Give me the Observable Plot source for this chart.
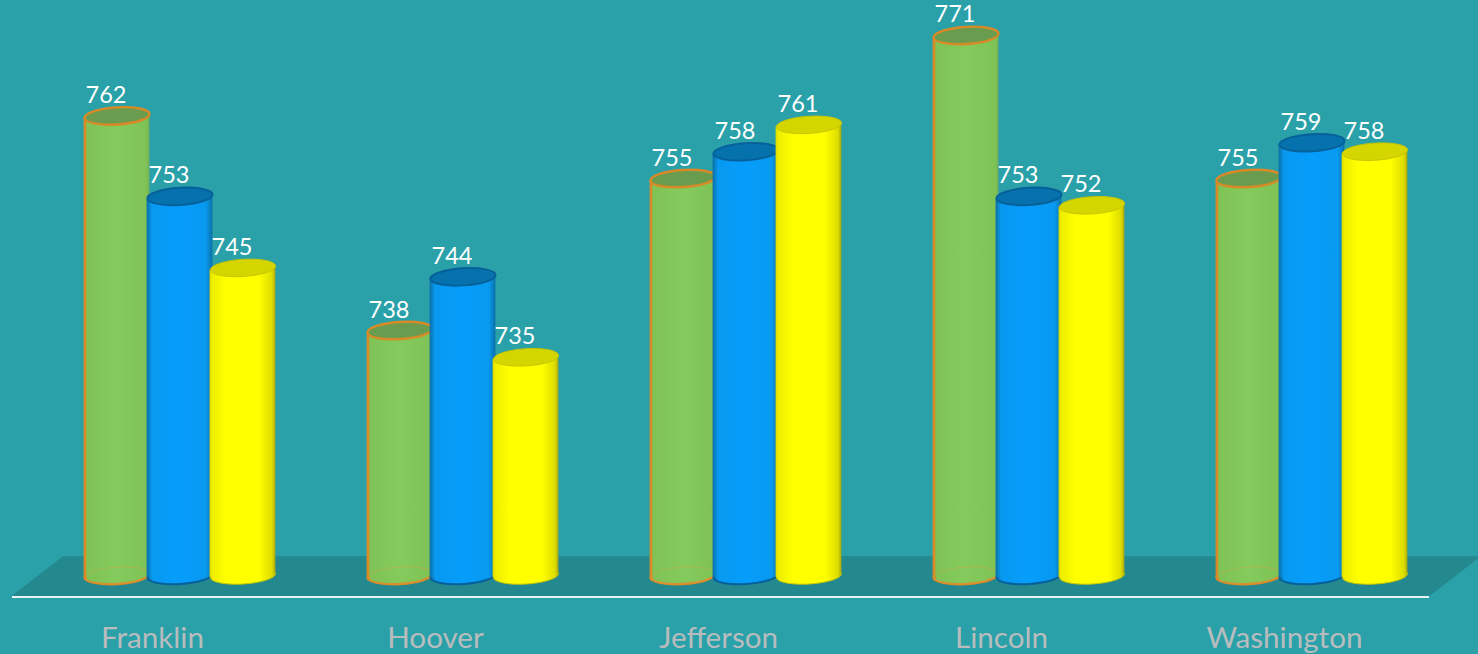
<!DOCTYPE html>
<html>
<head>
<meta charset="utf-8">
<script src="https://cdn.jsdelivr.net/npm/d3@7"></script>
<script src="https://cdn.jsdelivr.net/npm/@observablehq/plot@0.6"></script>
<style>
  html, body { margin: 0; padding: 0; background: #2aa1a9; overflow: hidden; }
  svg { display: block; }
  .cyl rect { transform-box: fill-box; transform-origin: center; transform: skewY(-3.6deg); }
</style>
</head>
<body>
<div id="chart"></div>
<script>
const schools = ["Franklin", "Hoover", "Jefferson", "Lincoln", "Washington"];
const series = ["A", "B", "C"];
const valuesA = [762, 738, 755, 771, 755];
const valuesB = [753, 744, 758, 753, 759];
const valuesC = [745, 735, 761, 752, 758];
const baseValue = 710.6;
const floorBack = 712.7;
const floorFront = 708.2;

const all = [valuesA, valuesB, valuesC];
const data = series.flatMap((s, i) => schools.map((school, j) => ({school, s, v: all[i][j]})));

const palette = {
  A: {id: "gA", top: "#6a9c50", stroke: "#d98a26", width: 2.4, inner: "#d9a24a"},
  B: {id: "gB", top: "#0572ae", stroke: "#06619a", width: 2, inner: "none"},
  C: {id: "gC", top: "#d5d500", stroke: "#c6c600", width: 1, inner: "none"}
};

function ellipseSymbol(ratio, deg) {
  const a = deg * Math.PI / 180, ca = Math.cos(a), sa = Math.sin(a), k = 0.5523;
  return {
    draw(ctx, size) {
      const rx = Math.sqrt(size / Math.PI), ry = rx * ratio;
      const p = (x, y) => [x * ca - y * sa, x * sa + y * ca];
      const c = (x1, y1, x2, y2, x, y) => ctx.bezierCurveTo(...p(x1, y1), ...p(x2, y2), ...p(x, y));
      ctx.moveTo(...p(rx, 0));
      c(rx, k * ry, k * rx, ry, 0, ry);
      c(-k * rx, ry, -rx, k * ry, -rx, 0);
      c(-rx, -k * ry, -k * rx, -ry, 0, -ry);
      c(k * rx, -ry, rx, -k * ry, rx, 0);
      ctx.closePath();
    }
  };
}
const ell = ellipseSymbol(0.262, -3.6);
const r = 32.6, dx = 27;

const marks = [];
marks.push(Plot.ruleY([floorFront], {stroke: "#e9f3f3", strokeWidth: 2, insetLeft: 1, insetRight: -3}));
for (const s of series) {
  const rows = data.filter(d => d.s === s);
  const p = palette[s];
  marks.push(
    Plot.dot(rows, {fx: "school", x: "s", y: () => baseValue, r, dx, symbol: ell, fill: `url(#${p.id})`, stroke: p.stroke, strokeWidth: p.width}),
    Plot.barY(rows, {fx: "school", x: "s", y1: () => baseValue, y2: "v", dx, insetLeft: -1.4, insetRight: -1.4, fill: `url(#${p.id})`, className: "cyl"}),
    Plot.dot(rows, {fx: "school", x: "s", y: () => baseValue, r: r - 1, dx, symbol: ell, fill: "none", stroke: p.inner, strokeOpacity: 0.35, strokeWidth: 1.2}),
    Plot.dot(rows, {fx: "school", x: "s", y: "v", r, dx, symbol: ell, fill: p.top, stroke: p.stroke, strokeWidth: p.width})
  );
}
marks.push(
  Plot.text(data, {fx: "school", x: "s", y: "v", text: "v", dx: dx - 11, dy: -20.5, fill: "white", fontSize: 23.5, lineAnchor: "middle"}),
  Plot.axisFx({anchor: "bottom", tickSize: 0, tickPadding: 27, dx: -0.5, label: null, fontSize: 29.6, color: "#b9bcbd", fontFamily: "Lato"})
);

const chart = Plot.plot({
  width: 1478,
  height: 654,
  marginTop: 0,
  marginLeft: 10,
  marginRight: 52,
  marginBottom: 55,
  style: {background: "#2aa1a9", fontFamily: "Lato", overflow: "visible"},
  fx: {domain: schools, padding: 0, label: null},
  x: {domain: series, paddingInner: 0, paddingOuter: 0.735, axis: null},
  y: {domain: [708, 775], range: [598.2, -0.8], axis: null},
  marks
});

const ns = "http://www.w3.org/2000/svg";
const defs = document.createElementNS(ns, "defs");
const stops = {
  gA: [[0, "#d98a26"], [.03, "#d98a26"], [.05, "#7fc356"], [.5, "#85ca5c"], [.95, "#7fc356"], [1, "#74b058"]],
  gB: [[0, "#0a6fa8"], [.03, "#0a7dbd"], [.08, "#0899f0"], [.5, "#069dfb"], [.9, "#0899f0"], [.97, "#0a7dbd"], [1, "#0a6fa8"]],
  gC: [[0, "#d8d800"], [.04, "#eeee00"], [.25, "#ffff00"], [.75, "#ffff00"], [.95, "#dcdc00"], [1, "#a5a510"]]
};
for (const [id, list] of Object.entries(stops)) {
  const g = document.createElementNS(ns, "linearGradient");
  g.setAttribute("id", id);
  for (const [o, c] of list) {
    const st = document.createElementNS(ns, "stop");
    st.setAttribute("offset", o);
    st.setAttribute("stop-color", c);
    g.appendChild(st);
  }
  defs.appendChild(g);
}
chart.insertBefore(defs, chart.firstChild);

// Floor: a parallelogram placed from the plot's own y scale and frame.
const yS = chart.scale("y");
const yb = yS.apply(floorBack), yf = yS.apply(floorFront);
const left = 11, right = 1429, slant = 52;
const floor = document.createElementNS(ns, "polygon");
floor.setAttribute("points", `${left},${yf} ${left + slant},${yb} ${right + slant},${yb} ${right},${yf}`);
floor.setAttribute("fill", "#24888f");
chart.insertBefore(floor, defs.nextSibling);

document.getElementById("chart").appendChild(chart);
</script>
</body>
</html>
